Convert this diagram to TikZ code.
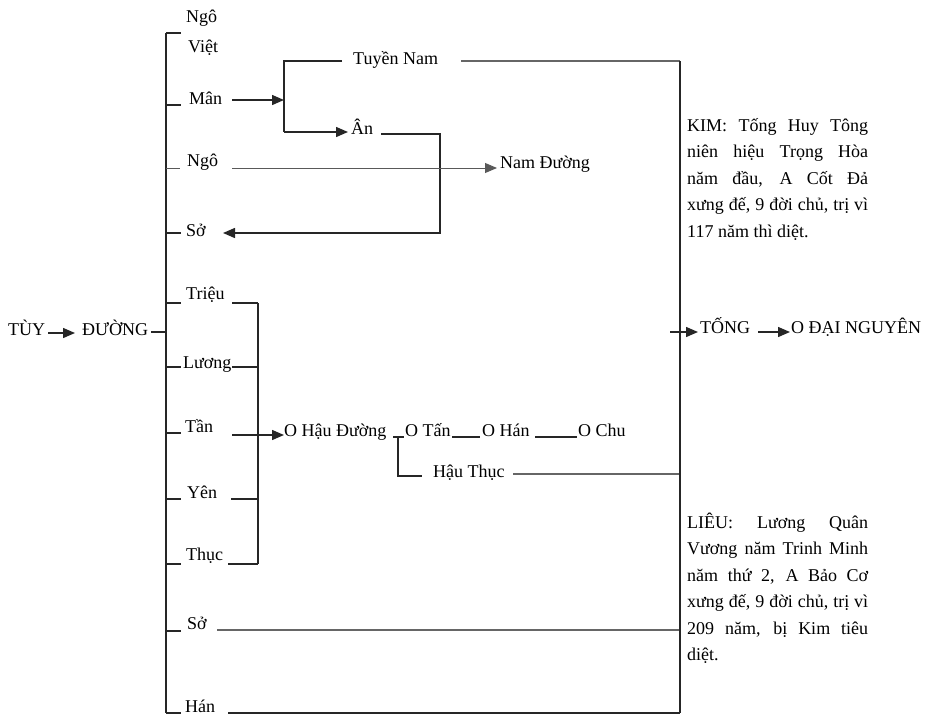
\documentclass[tikz,border=0pt]{standalone}
\usepackage{fontspec}
\setmainfont{Liberation Serif}
\usetikzlibrary{arrows.meta}
\begin{document}
\begin{tikzpicture}[x=1pt,y=-1pt,
  lbl/.style={anchor=base west, inner sep=0pt, font=\fontsize{18}{26.5}\selectfont},
  ln/.style={line width=1.4pt, black!85},
  thinln/.style={line width=0.9pt, black!65},
  grayln/.style={line width=1.4pt, black!60},
  arr/.style={-{Triangle[length=12pt,width=10pt]}},
]
\useasboundingbox (0,0) rectangle (926,715);

% ---------- text nodes ----------
\node[lbl] (ngo1)  at (186,22)  {Ngô};
\node[lbl] (viet)  at (188,52)  {Việt};
\node[lbl] (man)   at (189,104) {Mân};
\node[lbl] (ngo2)  at (187,166) {Ngô};
\node[lbl] (so1)   at (186,236) {Sở};
\node[lbl] (trieu) at (186,299) {Triệu};
\node[lbl] (luong) at (183,368) {Lương};
\node[lbl] (tan)   at (185,432) {Tần};
\node[lbl] (yen)   at (187,498) {Yên};
\node[lbl] (thuc)  at (186,560) {Thục};
\node[lbl] (so2)   at (187,629) {Sở};
\node[lbl] (han)   at (185,712) {Hán};
\node[lbl] (tuy)   at (8,335)   {TÙY};
\node[lbl] (duong) at (82,335)  {ĐƯỜNG};
\node[lbl] (tuyen) at (353,64)  {Tuyền Nam};
\node[lbl] (an)    at (351,134) {Ân};
\node[lbl] (namd)  at (500,168) {Nam Đường};
\node[lbl] (haud)  at (284,436) {O Hậu Đường};
\node[lbl] (otan)  at (405,436) {O Tấn};
\node[lbl] (ohan)  at (482,436) {O Hán};
\node[lbl] (ochu)  at (578,436) {O Chu};
\node[lbl] (hthuc) at (433,477) {Hậu Thục};
\node[lbl] (tong)  at (700,333) {TỐNG};
\node[lbl] (dnguyen) at (791,333) {O ĐẠI NGUYÊN};

% KIM paragraph
\node[lbl] (kim1) at (687,131)   {\makebox[181pt][s]{KIM: Tống Huy Tông}};
\node[lbl] (kim2) at (687,157.5) {\makebox[181pt][s]{niên hiệu Trọng Hòa}};
\node[lbl] (kim3) at (687,184)   {\makebox[181pt][s]{năm đầu, A Cốt Đả}};
\node[lbl] (kim4) at (687,210.5) {\makebox[181pt][s]{xưng đế, 9 đời chủ, trị vì}};
\node[lbl] (kim5) at (687,237)   {117 năm thì diệt.};

% LIEU paragraph
\node[lbl] (lieu1) at (687,528)   {\makebox[181pt][s]{LIÊU: Lương Quân}};
\node[lbl] (lieu2) at (687,554.5) {\makebox[181pt][s]{Vương năm Trinh Minh}};
\node[lbl] (lieu3) at (687,581)   {\makebox[181pt][s]{năm thứ 2, A Bảo Cơ}};
\node[lbl] (lieu4) at (687,607.5) {\makebox[181pt][s]{xưng đế, 9 đời chủ, trị vì}};
\node[lbl] (lieu5) at (687,634)   {\makebox[181pt][s]{209 năm, bị Kim tiêu}};
\node[lbl] (lieu6) at (687,660.5) {diệt.};

% ---------- coordinates ----------
\coordinate (vT) at (166,33);
\coordinate (vB) at (166,713);
\coordinate (rT) at (680,61);
\coordinate (rB) at (680,713);

% main left vertical and ticks
\draw[ln] (vT) -- (vB);
\draw[ln] (vT) -- ++(15,0);
\draw[ln] (166,105) -- ++(15,0);
\draw[thinln] (166,168) -- ++(14,0);
\draw[ln] (166,233) -- ++(15,0);
\draw[ln] (166,303) -- ++(15,0);
\draw[ln] (166,367) -- ++(15,0);
\draw[ln] (166,433) -- ++(15,0);
\draw[ln] (166,499) -- ++(15,0);
\draw[ln] (166,564) -- ++(15,0);
\draw[ln] (166,631) -- ++(15,0);
\draw[ln] (166,713) -- ++(15,0);

% TUY -> DUONG -> vertical
\coordinate (tuyA) at (48,333);
\coordinate (tuyB) at (75,333);
\draw[ln,arr] (tuyA) -- (tuyB);
\draw[ln] (151,332) -- (166,332);

% Man bracket
\coordinate (manA) at (232,100);
\coordinate (brk) at (284,100);
\draw[ln,arr] (manA) -- (brk);
\draw[ln] (342,61) -- (284,61) -- (284,132);
\coordinate (anTip) at (348,132);
\draw[ln,arr] (284,132) -- (anTip);
\draw[grayln] (461,61) -- (rT);

% An -> So
\coordinate (soTip) at (223,233);
\draw[ln,arr] (381,134) -- (440,134) -- (440,233) -- (soTip);

% Ngo -> Nam Duong
\coordinate (ndTip) at (497,168);
\draw[thinln,arr] (232,168) -- (ndTip);

% second bracket
\draw[ln] (258,303) -- (258,564);
\draw[ln] (232,303) -- (258,303);
\draw[ln] (232,367) -- (258,367);
\draw[ln] (231,499) -- (258,499);
\draw[ln] (228,564) -- (258,564);
\coordinate (tanA) at (232,435);
\coordinate (tanTip) at (284,435);
\draw[ln,arr] (tanA) -- (tanTip);

% Hau Duong chain
\draw[ln] (393,437) -- (404,437);
\draw[ln] (398,437) -- (398,476) -- (422,476);
\draw[ln] (452,437) -- (480,437);
\draw[ln] (535,437) -- (577,437);
\draw[grayln] (513,474) -- (680,474);

% So, Han lines
\draw[grayln] (217,630) -- (680,630);
\draw[ln] (228,713) -- (rB);

% right vertical
\draw[ln] (rT) -- (rB);

% Tong arrows
\draw[ln,arr] (670,332) -- (698,332);
\draw[ln,arr] (758,332) -- (790,332);
\end{tikzpicture}
\end{document}
